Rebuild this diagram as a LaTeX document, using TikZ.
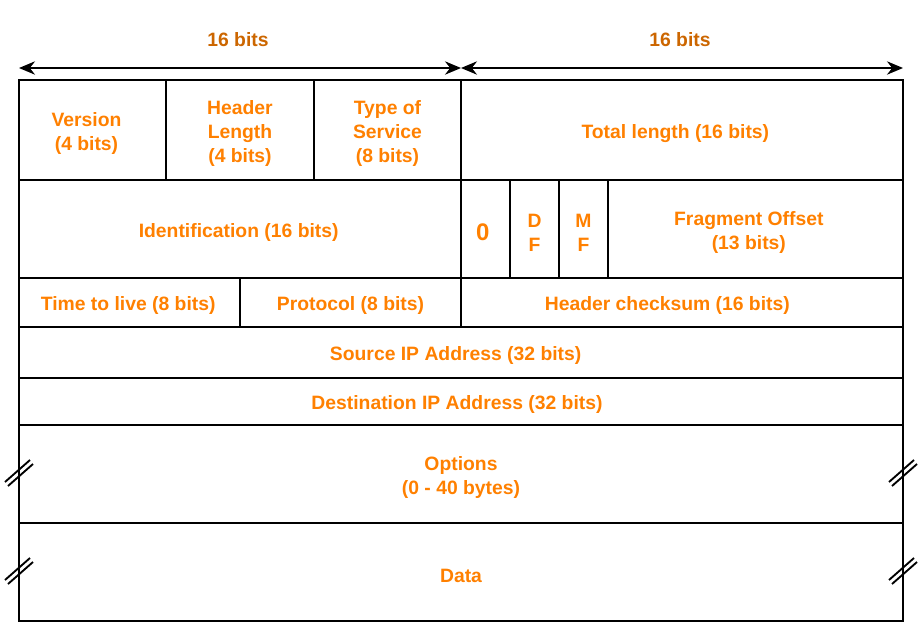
\documentclass[tikz,border=0pt]{standalone}
\usepackage{fontspec}
\setmainfont{Liberation Sans}
\usetikzlibrary{fit,arrows.meta}
\definecolor{fieldorange}{RGB}{255,128,0}
\definecolor{widthbrown}{RGB}{204,102,0}
\begin{document}
\begin{tikzpicture}[x=0.75pt,y=-0.75pt,
  cell/.style={draw=black, line width=1.4pt, inner sep=0pt, outer sep=0pt},
  field/.style={font=\fontsize{14.5}{18}\selectfont\bfseries, text=fieldorange,
    align=center, inner sep=0pt, yshift=-2.6pt},
  widthlabel/.style={font=\fontsize{14.5}{18}\selectfont\bfseries, text=widthbrown},
  widtharrow/.style={line width=1.4pt, {Stealth[length=12pt,width=10pt]}-{Stealth[length=12pt,width=10pt]}},
  breakline/.style={line width=1.4pt, black},
  brk/.pic={
    \draw[breakline] (-14,9) -- (11,-13);
    \draw[breakline] (-11,13) -- (14,-9);
  }]
\useasboundingbox (0,0) rectangle (921,640);

% bit-width indicators above the header
\coordinate (a0) at (19,68);
\coordinate (a1) at (461,68);
\coordinate (a2) at (903,68);
\draw[widtharrow] (a0) -- (a1);
\draw[widtharrow] (a1) -- (a2);
\node[widthlabel] (w1) at (238,40) {16 bits};
\node[widthlabel] (w2) at (680,40) {16 bits};

% header cells
\node[cell, fit={(19,80) (166,180)}] (ver) {};
\node[cell, fit={(166,80) (314,180)}] (ihl) {};
\node[cell, fit={(314,80) (461,180)}] (tos) {};
\node[cell, fit={(461,80) (903,180)}] (tlen) {};
\node[cell, fit={(19,180) (461,278)}] (ident) {};
\node[cell, fit={(461,180) (510,278)}] (zero) {};
\node[cell, fit={(510,180) (559,278)}] (df) {};
\node[cell, fit={(559,180) (608,278)}] (mf) {};
\node[cell, fit={(608,180) (903,278)}] (frag) {};
\node[cell, fit={(19,278) (240,327)}] (ttl) {};
\node[cell, fit={(240,278) (461,327)}] (proto) {};
\node[cell, fit={(461,278) (903,327)}] (csum) {};
\node[cell, fit={(19,327) (903,378)}] (src) {};
\node[cell, fit={(19,378) (903,425)}] (dst) {};
\node[cell, fit={(19,425) (903,523)}] (opt) {};
\node[cell, fit={(19,523) (903,621)}] (data) {};

% field names
\node[field] (tver) at ([xshift=-4.5pt]ver.center) {Version\\(4 bits)};
\node[field] (tihl) at (ihl.center) {Header\\Length\\(4 bits)};
\node[field] (ttos) at (tos.center) {Type of\\Service\\(8 bits)};
\node[field] (ttlen) at ([xshift=-5pt]tlen.center) {Total length (16 bits)};
\node[field] (tident) at ([xshift=-1pt]ident.center) {Identification (16 bits)};
\node[field, font=\fontsize{18}{20}\selectfont\bfseries] (tzero) at ([xshift=-2pt]zero.center) {0};
\node[field] (tdf) at (df.center) {D\\F};
\node[field] (tmf) at (mf.center) {M\\F};
\node[field] (tfrag) at ([xshift=-5pt]frag.center) {Fragment Offset\\(13 bits)};
\node[field] (tttl) at ([xshift=-1pt]ttl.center) {Time to live (8 bits)};
\node[field] (tproto) at (proto.center) {Protocol (8 bits)};
\node[field] (tcsum) at ([xshift=-11pt]csum.center) {Header checksum (16 bits)};
\node[field] (tsrc) at ([xshift=-4pt]src.center) {Source IP Address (32 bits)};
\node[field] (tdst) at ([xshift=-3pt]dst.center) {Destination IP Address (32 bits)};
\node[field] (topt) at (opt.center) {Options\\(0 - 40 bytes)};
\node[field] (tdata) at (data.center) {Data};

% break marks on the variable-length rows
\pic at (19,473) {brk};
\pic at (19,571) {brk};
\pic at (903,473) {brk};
\pic at (903,571) {brk};
\end{tikzpicture}
\end{document}
